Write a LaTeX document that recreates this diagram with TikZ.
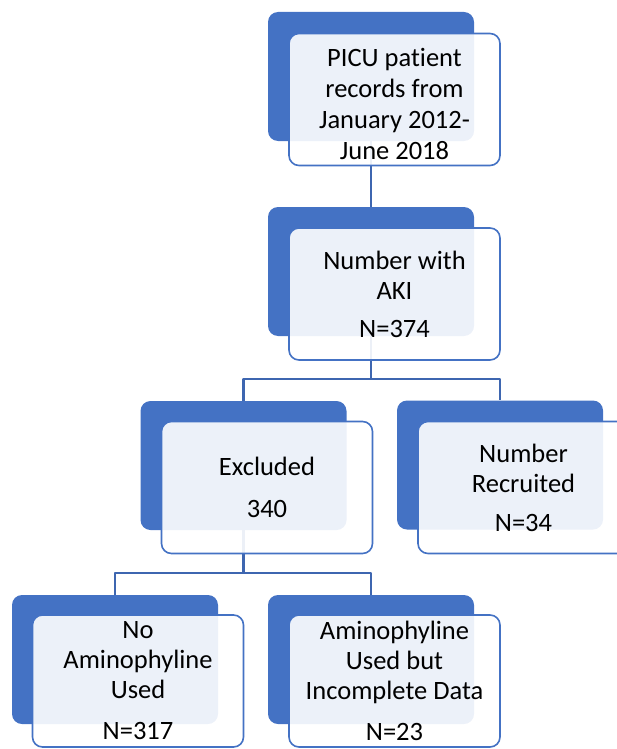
\documentclass[tikz,border=0pt]{standalone}
\usepackage{fontspec}
\setmainfont{Carlito}[Ligatures=NoCommon]
\definecolor{boxblue}{HTML}{4472C4}
\definecolor{lineblue}{HTML}{3E66B0}
\begin{document}
\begin{tikzpicture}[x=1pt,y=-1pt,line join=round,line cap=round]
	\tikzset{backbox/.style={rectangle,rounded corners=10pt,fill=boxblue,
			minimum width=206pt,minimum height=129pt,inner sep=0pt},
		frontbox/.style={rectangle,rounded corners=10pt,draw=boxblue,line width=1.6pt,
			fill=white,fill opacity=0.9,text opacity=1,align=center,
			minimum width=211pt,minimum height=132pt,inner sep=0pt,
			font=\fontsize{26.5}{30}\selectfont},
		link/.style={draw=lineblue,line width=2.2pt,line cap=butt}}
	\useasboundingbox (0,0) rectangle (617,749);
	\clip (0,0) rectangle (617,749);
	% back boxes
	\node[backbox] (b1) at (371,76.5) {};
	\node[backbox] (b2) at (371,271.5) {};
	\node[backbox] (b3) at (243.5,465.5) {};
	\node[backbox] (b4) at (500,465) {};
	\node[backbox] (b5) at (115,659.5) {};
	\node[backbox] (b6) at (371,659.5) {};
	% connectors
	\draw[link] (b1.south) -- (b2.north);
	\draw[link] (b2.south) -- ++(0,43) coordinate (s1) -| (b3.north);
	\draw[link] (s1) -| (b4.north);
	\draw[link] (b3.south) -- ++(0,43) coordinate (s2) -| (b5.north);
	\draw[link] (s2) -| (b6.north);
	% front boxes
	\node[frontbox,font=\fontsize{26.5}{31}\selectfont] (f1) at ([shift={(23.5,23)}]b1) {\rule{0pt}{27pt}PICU patient\\records from\\January 2012-\\June 2018};
	\node[frontbox] (f2) at ([shift={(23.5,22.5)}]b2) {Number with\\AKI\\[8pt]N=374};
	\node[frontbox] (f3) at ([shift={(23.5,22)}]b3) {Excluded\\[12pt]340};
	\node[frontbox] (f4) at ([shift={(23.5,22.5)}]b4) {Number\\Recruited\\[9pt]N=34};
	\node[frontbox] (f5) at ([shift={(23,21.5)}]b5) {No\\Aminophyline\\Used\\[11pt]N=317};
	\node[frontbox] (f6) at ([shift={(23.5,21.5)}]b6) {Aminophyline\\Used but\\Incomplete Data\\[11pt]N=23};
\end{tikzpicture}
\end{document}
